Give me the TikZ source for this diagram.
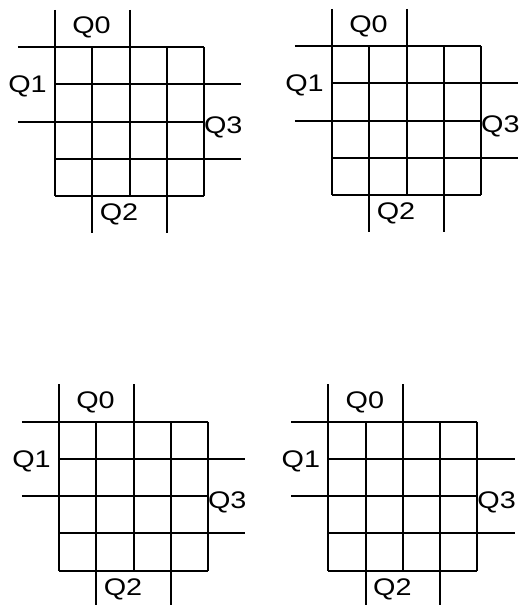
\documentclass[tikz,border=0pt]{standalone}
\usepackage{graphicx}
\usepackage{fontspec}
\setmainfont{Liberation Sans}
\newcommand{\qlabel}[1]{\scalebox{1.2}[1]{#1}}
\begin{document}
\begin{tikzpicture}[x=1pt,y=-1pt,
  gridline/.style={line width=2pt,black},
  qtext/.style={inner sep=0pt,anchor=base,font=\fontsize{24}{28}\selectfont}]
\useasboundingbox (0,0) rectangle (526,605);
\def\c{37.25}
\foreach \ox/\oy/\n in {55/47/a, 332/46/b, 59/421.7/c, 328.3/421.7/d} {
  \begin{scope}[shift={(\ox,\oy)}]
    % grid lines with extensions
    \foreach \i in {0,1,2,3,4} {
      \draw[gridline] (\i*\c,0) -- (\i*\c,4*\c);
      \draw[gridline] (0,\i*\c) -- (4*\c,\i*\c);
    }
    % top extensions (Q0)
    \draw[gridline] (0,-\c) -- (0,0);
    \draw[gridline] (2*\c,-\c) -- (2*\c,0);
    % left extensions (Q1)
    \draw[gridline] (-\c,0) -- (0,0);
    \draw[gridline] (-\c,2*\c) -- (0,2*\c);
    % right extensions (Q3)
    \draw[gridline] (4*\c,\c) -- (5*\c,\c);
    \draw[gridline] (4*\c,3*\c) -- (5*\c,3*\c);
    % bottom extensions (Q2)
    \draw[gridline] (\c,4*\c) -- (\c,5*\c);
    \draw[gridline] (3*\c,4*\c) -- (3*\c,5*\c);
    % labels
    \node[qtext] (q0\n) at (36.5,-13.7) {\qlabel{Q0}};
    \node[qtext] (q1\n) at (-27.5,45.7) {\qlabel{Q1}};
    \node[qtext] (q3\n) at (168.3,86.3) {\qlabel{Q3}};
    \node[qtext] (q2\n) at (64,173.7) {\qlabel{Q2}};
  \end{scope}
}
\end{tikzpicture}
\end{document}
